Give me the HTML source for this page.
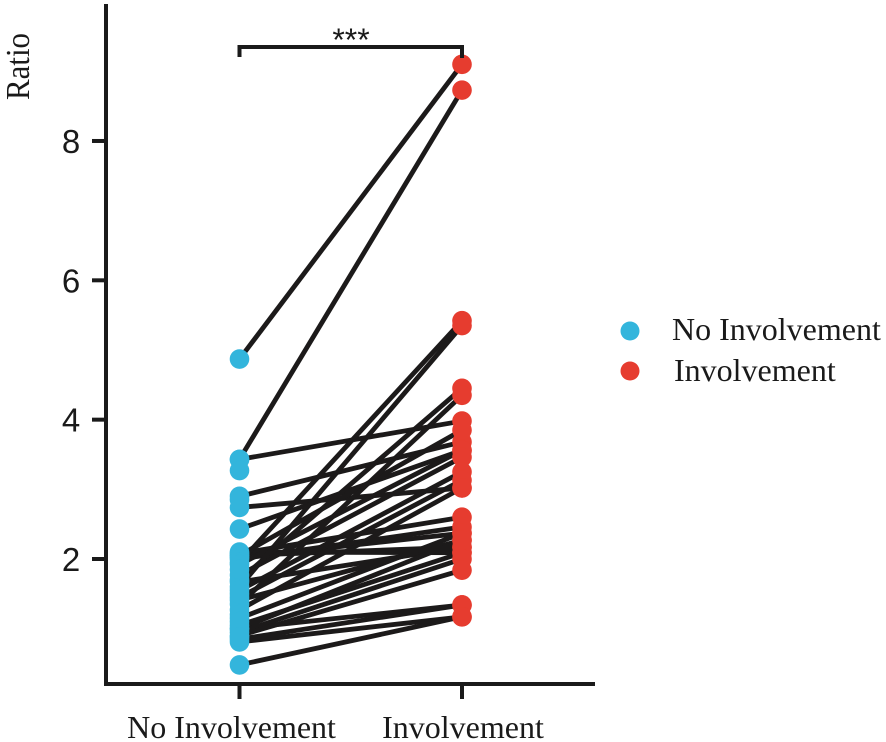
<!DOCTYPE html>
<html>
<head>
<meta charset="utf-8">
<style>
html,body{margin:0;padding:0;background:#fff;}
svg{display:block;}
.serif{font-family:"Liberation Serif",serif;fill:#1a1a1a;}
.sans{font-family:"Liberation Sans",sans-serif;fill:#1a1a1a;}
</style>
</head>
<body>
<svg id="chart" width="886" height="742" viewBox="0 0 886 742" xmlns="http://www.w3.org/2000/svg">
  <g id="lines"></g>
  <g id="points"></g>
  <g id="axes"></g>
  <text class="serif" transform="translate(29,100) rotate(-90)" font-size="34" textLength="67" lengthAdjust="spacingAndGlyphs">Ratio</text>
  <path d="M239.500 57V47H462V58" fill="none" stroke="#1a1a1a" stroke-width="4"/>
  <text class="sans" x="351" y="51" font-size="32" text-anchor="middle">***</text>
  <g>
    <circle cx="630" cy="331" r="9.500" fill="#33b5dc"/>
    <text class="serif" x="672" y="340" font-size="32">No Involvement</text>
    <circle cx="630" cy="371" r="9.500" fill="#e63c2f"/>
    <text class="serif" x="674" y="381" font-size="32">Involvement</text>
  </g>
</svg>
<script>
const categories = ["No Involvement", "Involvement"];
const yTicks = [2, 4, 6, 8];
const noInvolvement = [4.87, 3.43, 3.43, 2.90, 2.74, 2.43, 2.10, 2.08, 2.05, 2.05, 2.02, 2.00, 1.95, 1.92, 1.77, 1.70, 1.67, 1.60, 1.55, 1.45, 1.41, 1.35, 1.27, 1.15, 1.05, 1.00, 1.00, 0.95, 0.90, 0.85, 0.81, 0.48];
const involvement = [9.10, 8.73, 3.98, 3.68, 3.02, 3.56, 2.09, 2.60, 2.17, 3.85, 2.37, 2.46, 5.42, 3.56, 3.46, 4.45, 2.17, 5.35, 3.25, 3.13, 2.27, 4.35, 3.02, 2.37, 2.09, 2.27, 1.34, 2.00, 1.84, 1.34, 1.17, 1.17];
const extraNoInvolvement = [3.27, 2.85, 1.20, 1.10, 1.85, 1.50, 0.88];

const NS = "http://www.w3.org/2000/svg";
const yScale = v => 559 - (v - 2) * 69.67;
const xScale = i => 239.5 + i * 222.5;

function make(tag, attrs, parent) {
  const el = document.createElementNS(NS, tag);
  for (const k in attrs) el.setAttribute(k, attrs[k]);
  parent.appendChild(el);
  return el;
}

const linesG = document.getElementById("lines");
const pointsG = document.getElementById("points");
const axesG = document.getElementById("axes");

noInvolvement.forEach((v, i) => {
  const line = make("line", {x1: xScale(0), y1: yScale(v), x2: xScale(1), y2: yScale(involvement[i]), stroke: "#1c1a1a", "stroke-width": 4.8}, linesG);
  
  
});

noInvolvement.concat(extraNoInvolvement).forEach(v => {
  const c = make("circle", {cx: xScale(0), cy: yScale(v), r: 9.8, fill: "#33b5dc"}, pointsG);
  
  
});

involvement.forEach(v => {
  const c = make("circle", {cx: xScale(1), cy: yScale(v), r: 9.8, fill: "#e63c2f"}, pointsG);
  
  
});

const yAxis = make("line", {x1: 106, y1: 4, x2: 106, y2: 686, stroke: "#1a1a1a", "stroke-width": 4}, axesG);



const xAxis = make("line", {x1: 104, y1: 684, x2: 595, y2: 684, stroke: "#1a1a1a", "stroke-width": 4}, axesG);



yTicks.forEach(t => {
  const tick = make("line", {x1: 92, y1: yScale(t), x2: 106, y2: yScale(t), stroke: "#1a1a1a", "stroke-width": 4}, axesG);
  
  
  const label = make("text", {x: 71, y: yScale(t) + 12, "font-size": 33, "text-anchor": "middle", class: "sans"}, axesG);
  
  
  label.textContent = t;
});

categories.forEach((name, i) => {
  const tick = make("line", {x1: xScale(i), y1: 684, x2: xScale(i), y2: 699, stroke: "#1a1a1a", "stroke-width": 4}, axesG);
  
  
  const label = make("text", {x: i === 0 ? 231.5 : 463, y: 738, "font-size": 32, "text-anchor": "middle", class: "serif"}, axesG);
  
  
  label.textContent = name;
});
</script>
</body>
</html>
